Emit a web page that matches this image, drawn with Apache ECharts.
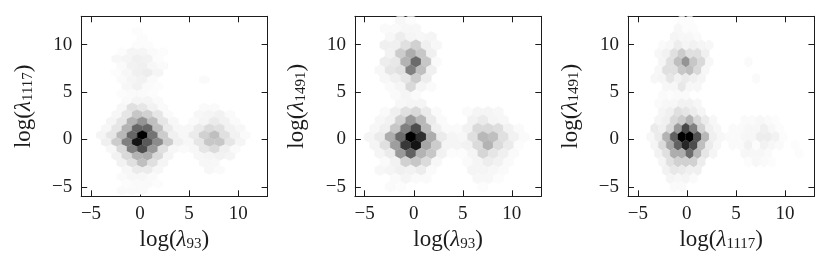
<!DOCTYPE html>
<html><head><meta charset="utf-8">
<style>html,body{margin:0;padding:0;background:#fff}#c{width:831px;height:269px}</style>
<script src="https://cdn.jsdelivr.net/npm/echarts@6/dist/echarts.min.js"></script>
</head><body><div id="c"></div>
<script>
// Each row: [rowIndex, firstColumn, darkness%...]
const panel1Rows = [
[15,-1,1],[14,0,1],[13,-1,1,1],[12,-2,1,4,4,2,1],[11,-3,3,4,6,5,1],[10,-2,2,5,6,3,2],[9,-3,1,3,6,7,4],
[8,-2,2,4,5,2],[8,6,2],[7,-2,3,5,2,1],[6,-2,1,2,2,1],[5,-2,2,4,4,2],[4,-2,3,12,10,5,2],[4,6,2,2],
[3,-3,3,10,22,18,10,2],[3,5,3,4,5,2],[2,-3,4,10,30,42,25,10,3],[2,5,2,4,8,5,2],
[1,-4,3,10,30,60,60,25,8,3],[1,4,3,8,14,12,5,3],
[0,-4,4,10,28,60,100,55,20,6,3,8,18,25,12,5,2],
[-1,-4,6,20,50,92,65,45,20,6,3,10,22,22,10,4],
[-2,-3,3,15,50,70,40,12,3,2,3,10,14,6,2],
[-3,-3,5,15,30,32,15,4],[-3,5,3,4,5,4],
[-4,-2,5,12,25,12,4],[-4,6,3,3],
[-5,-2,3,8,8,3],[-5,6,3,2],[-6,-2,2,3,3,2],[-7,-2,1,2,2,1],[-8,-2,2,2,2]
];
const panel2Rows = [
[14,-1,3,1],[13,-3,2,2,3,3],[12,-2,3,7,4,3,4],[11,-3,6,6,12,18,6,3],[10,-2,5,20,32,22,6],
[9,-3,7,9,30,58,22,2],[8,-3,3,10,12,50,25,6],[7,-3,3,6,10,20,7],[6,-2,2,4,15,4,2],[5,-2,2,4,2],[4,-1,3,4,4],
[3,-3,2,6,12,15,8,2],[3,5,2,4,4,3],[2,-3,3,5,18,40,28,8,2],[2,6,5,8,4,3],
[1,-4,3,6,22,50,70,28,6,2,2,5,15,15,13,5,2],
[0,-4,4,8,32,58,100,82,32,8,4,3,12,28,25,12,5,2],
[-1,-4,4,12,38,78,92,35,20,4,4,5,14,30,14,8,1],
[-2,-3,4,8,40,62,30,22,5,1,1,4,16,10,6,2],
[-3,-3,2,5,18,22,14,3],[-3,5,2,4,7,5,2],[-4,-3,3,4,6,5,7,2],[-4,6,4,4,3,2],
[-5,-2,2,4,2,2],[-5,6,3,3,1],[-6,-2,2,1],[-6,7,1]
];
const panel3Rows = [
[14,0,1,1],[13,-1,3,1,1],[12,-1,4,3,3,2],[11,-3,2,3,7,4,5,4,3],[10,-3,3,5,12,20,12,12,6],
[9,-3,4,12,25,42,22,15,3],[9,8,2],[8,-3,3,12,12,22,25,15,3],[7,-4,3,4,10,5,8,6,4],[7,9,2],
[6,-2,3,3,9,3,3],[5,-3,2,1,2,2],[4,-3,2,3,3,5,5,3],[3,-3,4,6,12,10,7,4],
[2,-3,4,6,15,20,30,15,8,3],[2,8,2,2,3,2,1],
[1,-4,8,6,15,40,72,50,18,6,3,0,2,2,3,3,6,3,1],
[0,-4,3,8,30,62,100,100,68,28,6,3,2,2,3,3,7,7,5,1],
[-1,-4,4,14,35,62,85,70,25,8,3,0,2,2,5,1,5,3,2,0,1],
[-2,-3,5,12,32,32,58,28,10,4],[-2,8,3,3,3,2],[-2,15,1],
[-3,-3,4,12,18,18,18,7],[-3,8,1,3,2,1],[-4,-2,5,9,8,6,6],[-5,-2,4,3,4,2],[-6,-1,2,2]
];
const xNames = ['93','93','1117'];
const yNames = ['1117','1491','1491'];
const tickValues = [-5,0,5,10];
const tickLabels = {'-5':'\u22125','0':'0','5':'5','10':'10'};
const latticeOriginX = [0.234,-0.305,-0.51];
const latticeOriginY = [0.45,0.275,0.275];
const latticeStepX = [1.05,1.05,0.797];
const latticeStepY = [0.732,0.88,0.88];
const gridLefts = [81.2,354.9,628];
const FONT = 'Liberation Serif';
const INK = '#1c1c1c';
const allRows = [panel1Rows,panel2Rows,panel3Rows];

const rich = {
  t:{fontFamily:FONT,fontSize:23,color:INK},
  i:{fontFamily:FONT,fontSize:23,fontStyle:'italic',color:INK},
  s:{fontFamily:FONT,fontSize:15,color:INK,verticalAlign:'bottom',padding:[7,0,0,0]}
};
const nameOf = s => '{t|log(}{i|\u03bb}{s|'+s+'}{t|)}';

const grid=[],xAxis=[],yAxis=[],series=[];
allRows.forEach((rows,p)=>{
  grid.push({left:gridLefts[p],top:16.3,width:186.4,height:180});
  const base = {type:'value',min:-6,max:13,gridIndex:p,splitLine:{show:false},
    axisLine:{show:true,onZero:false,lineStyle:{color:INK,width:1}},
    axisTick:{show:true,inside:true,length:6,customValues:tickValues,lineStyle:{color:INK,width:1}}};
  const labels = {show:true,customValues:tickValues,fontFamily:FONT,fontSize:19,color:INK,
    formatter:v=>tickLabels[String(v)]};
  xAxis.push(Object.assign({},base,{position:'bottom',axisLabel:Object.assign({},labels,{margin:8}),
    name:nameOf(xNames[p]),nameLocation:'middle',nameGap:29,nameTextStyle:{rich}}));
  xAxis.push(Object.assign({},base,{position:'top',axisLabel:{show:false}}));
  yAxis.push(Object.assign({},base,{position:'left',axisLabel:Object.assign({},labels,{margin:9}),
    name:nameOf(yNames[p]),nameLocation:'middle',nameGap:46,nameRotate:90,nameTextStyle:{rich}}));
  yAxis.push(Object.assign({},base,{position:'right',axisLabel:{show:false}}));
  const data=[];
  rows.forEach(r=>{
    const k=r[0], j0=r[1];
    r.slice(2).forEach((v,i)=>{
      if(!v) return;
      const j=j0+i;
      const x=latticeOriginX[p]+latticeStepX[p]*(j+(k%2?0.5:0));
      const y=latticeOriginY[p]+latticeStepY[p]*k;
      data.push([x,y,v]);
    });
  });
  const hx=latticeStepX[p]/2, hy=latticeStepY[p]/3;
  series.push({type:'custom',xAxisIndex:p*2,yAxisIndex:p*2,clip:true,silent:true,animation:false,data,
    encode:{x:0,y:1},z:1,
    renderItem:(params,api)=>{
      const x=api.value(0),y=api.value(1),v=api.value(2);
      const g=Math.round(255*(1-v/100));
      const c=`rgb(${g},${g},${g})`;
      const pts=[[x,y+2*hy],[x+hx,y+hy],[x+hx,y-hy],[x,y-2*hy],[x-hx,y-hy],[x-hx,y+hy]].map(q=>api.coord(q));
      return {type:'polygon',shape:{points:pts},style:{fill:c,stroke:c,lineWidth:0.3}};
    }});
});
const chart=echarts.init(document.getElementById('c'),null,{renderer:'canvas'});
chart.setOption({animation:false,backgroundColor:'#fff',grid,xAxis,yAxis,series});
</script></body></html>
